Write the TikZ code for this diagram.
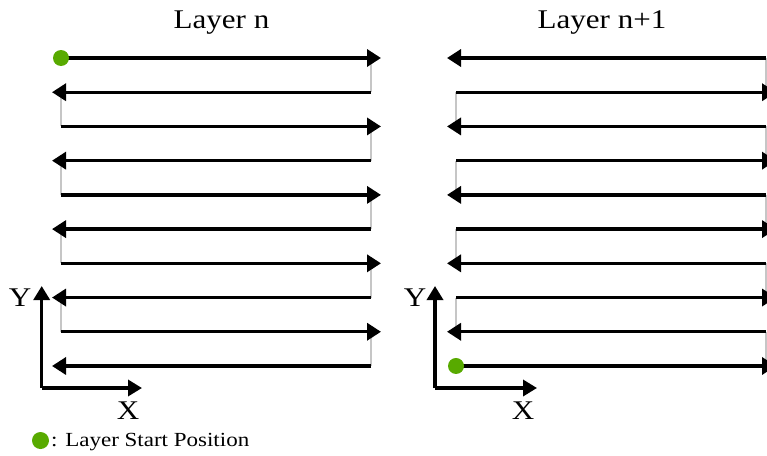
\documentclass[tikz,border=0pt]{standalone}
\usepackage{fontspec}
\setmainfont{Liberation Serif}
\usetikzlibrary{arrows.meta}
\definecolor{startgreen}{RGB}{88,170,0}
\tikzset{
  pass/.style={line width=3.4pt,-{Triangle[length=14pt,width=17pt]}},
  link/.style={line width=2pt,gray!45},
  axis/.style={line width=3.4pt,-{Triangle[length=14pt,width=16pt]}},
  startdot/.style={circle,fill=startgreen,inner sep=0pt,minimum size=16pt},
  label/.style={inner sep=0pt,xscale=1.15},
}
\begin{document}
\begin{tikzpicture}[x=1pt,y=-1pt]
\useasboundingbox (0,0) rectangle (767,455);

% row end points of both layers
\foreach \i in {1,...,10}{
  \pgfmathsetmacro{\yy}{58+(\i-1)*34.22}
  \coordinate (La\i) at (61,\yy);
  \coordinate (Lb\i) at (371,\yy);
  \coordinate (Ra\i) at (456,\yy);
  \coordinate (Rb\i) at (766,\yy);
}

% connectors between successive passes (drawn first, below the passes)
\foreach \i/\j in {1/2,3/4,5/6,7/8,9/10}{
  \draw[link] (Lb\i) -- (Lb\j);
  \draw[link] (Rb\i) -- (Rb\j);
}
\foreach \i/\j in {2/3,4/5,6/7,8/9}{
  \draw[link] (La\i) -- (La\j);
  \draw[link] (Ra\i) -- (Ra\j);
}

% layer n: odd rows to the right, even rows to the left
\foreach \i in {1,3,5,7,9}{
  \draw[pass] (La\i) -- ([xshift=10pt]Lb\i);
}
\foreach \i in {2,4,6,8,10}{
  \draw[pass] (Lb\i) -- ([xshift=-9pt]La\i);
}
% layer n+1: even rows to the right, odd rows to the left
\foreach \i in {2,4,6,8,10}{
  \draw[pass] (Ra\i) -- ([xshift=10pt]Rb\i);
}
\foreach \i in {1,3,5,7,9}{
  \draw[pass] (Rb\i) -- ([xshift=-9pt]Ra\i);
}

% start positions
\node[startdot] (startL) at (La1) {};
\node[startdot] (startR) at (Ra10) {};

% titles
\node[label,anchor=base,font=\fontsize{27}{30}\selectfont] (titleL) at (221.5,28.3) {Layer n};
\node[label,anchor=base,font=\fontsize{27}{30}\selectfont] (titleR) at (602,28.3) {Layer n+1};

% axes
\coordinate (oL) at (41.7,388);
\coordinate (yL) at (41.7,286);
\coordinate (xL) at (142,388);
\draw[axis] (oL) -- (yL);
\draw[axis] (oL) -- (xL);
\node[label,font=\fontsize{27}{30}\selectfont] (labYL) at (20,298) {Y};
\node[label,font=\fontsize{27}{30}\selectfont] (labXL) at (128,411) {X};

\coordinate (oR) at (435,388);
\coordinate (yR) at (435,286);
\coordinate (xR) at (537,388);
\draw[axis] (oR) -- (yR);
\draw[axis] (oR) -- (xR);
\node[label,font=\fontsize{27}{30}\selectfont] (labYR) at (415,298) {Y};
\node[label,font=\fontsize{27}{30}\selectfont] (labXR) at (523,411) {X};

% legend
\node[startdot,minimum size=17pt] (legdot) at (40.5,440.5) {};
\node[label,anchor=base west,font=\fontsize{20}{24}\selectfont] (legtext) at (51,446.7) {: Layer Start Position};
\end{tikzpicture}
\end{document}
